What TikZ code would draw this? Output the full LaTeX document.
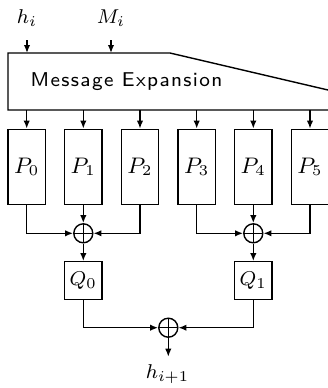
\documentclass[tikz,border=0pt]{standalone}
\usetikzlibrary{arrows.meta}
% small design size, enlarged: heavier, wider glyphs
\newcommand{\upsc}[1]{\scalebox{1.25}{#1}}
% letter spacing for a single word
\def\lsword#1{\lswordaux#1\relax}
\def\lswordaux#1{\ifx#1\relax\else#1\kern0.55pt\expandafter\lswordaux\fi}
\begin{document}
\begin{tikzpicture}[x=0.5pt,y=-0.5pt,line width=0.7pt,
  arr/.style={-{Latex[length=4pt,width=3.2pt]}},
  pbox/.style={draw,minimum width=18.75pt,minimum height=37.5pt,inner sep=0pt,font=\fontsize{8.8}{10}\selectfont},
  qbox/.style={draw,minimum width=18.75pt,minimum height=18.75pt,inner sep=0pt,font=\fontsize{8}{10}\selectfont},
  xorc/.style={draw,circle,minimum size=9.5pt,inner sep=0pt,
    path picture={\draw (path picture bounding box.north) -- (path picture bounding box.south)
                        (path picture bounding box.west) -- (path picture bounding box.east);}},
  lbl/.style={inner sep=0pt,font=\fontsize{8.3}{10}\selectfont}]
\useasboundingbox (0,0) rectangle (328,388);
\clip (0,0) rectangle (328,388);

% inputs
\node[lbl] (hi) at (27,18) {\upsc{$h_i$}};
\node[lbl] (Mi) at (111,18) {\upsc{$M_i$}};
\coordinate (hiS) at (27,40);
\coordinate (MiS) at (111,40);
\coordinate (hiE) at (27,53);
\coordinate (MiE) at (111,53);

% message expansion block (runs off the right edge)
\draw (340,110) -- (8,110) -- (8,53) -- (170,53) -- (340,92.8);
\node[inner sep=0pt,anchor=base west,font=\fontsize{8}{10}\selectfont\sffamily] (me) at (30,86)
  {\upsc{\lsword{Message}\ \lsword{Expansion}}};
\draw[arr] (hiS) -- (hiE);
\draw[arr] (MiS) -- (MiE);

% permutations P0..P5
\foreach \i/\x in {0/26.7,1/83.3,2/140,3/196.7,4/253.3,5/310}{
  \node[pbox] (P\i) at (\x,166.8) {\upsc{$P_\i$}};
  \coordinate (o\i) at (\x,110);
  \draw[arr] (o\i) -- (P\i.north);
}

% first layer of xors
\node[xorc] (x0) at (83.3,233.3) {};
\node[xorc] (x1) at (253.3,233.3) {};
\draw[arr] (P0.south) |- (x0.west);
\draw[arr] (P1.south) -- (x0.north);
\draw[arr] (P2.south) |- (x0.east);
\draw[arr] (P3.south) |- (x1.west);
\draw[arr] (P4.south) -- (x1.north);
\draw[arr] (P5.south) |- (x1.east);

% Q permutations
\node[qbox] (Q0) at (83.3,280.5) {\upsc{$Q_0$}};
\node[qbox] (Q1) at (253.3,280.5) {\upsc{$Q_1$}};
\draw[arr] (x0.south) -- (Q0.north);
\draw[arr] (x1.south) -- (Q1.north);

% final xor and output
\node[xorc] (xf) at (168.3,327.7) {};
\draw[arr] (Q0.south) |- (xf.west);
\draw[arr] (Q1.south) |- (xf.east);
\coordinate (outE) at (168.3,356.7);
\draw[arr] (xf.south) -- (outE);
\node[lbl] (hout) at (167.5,374) {\upsc{$h_{i+1}$}};
\end{tikzpicture}
\end{document}
